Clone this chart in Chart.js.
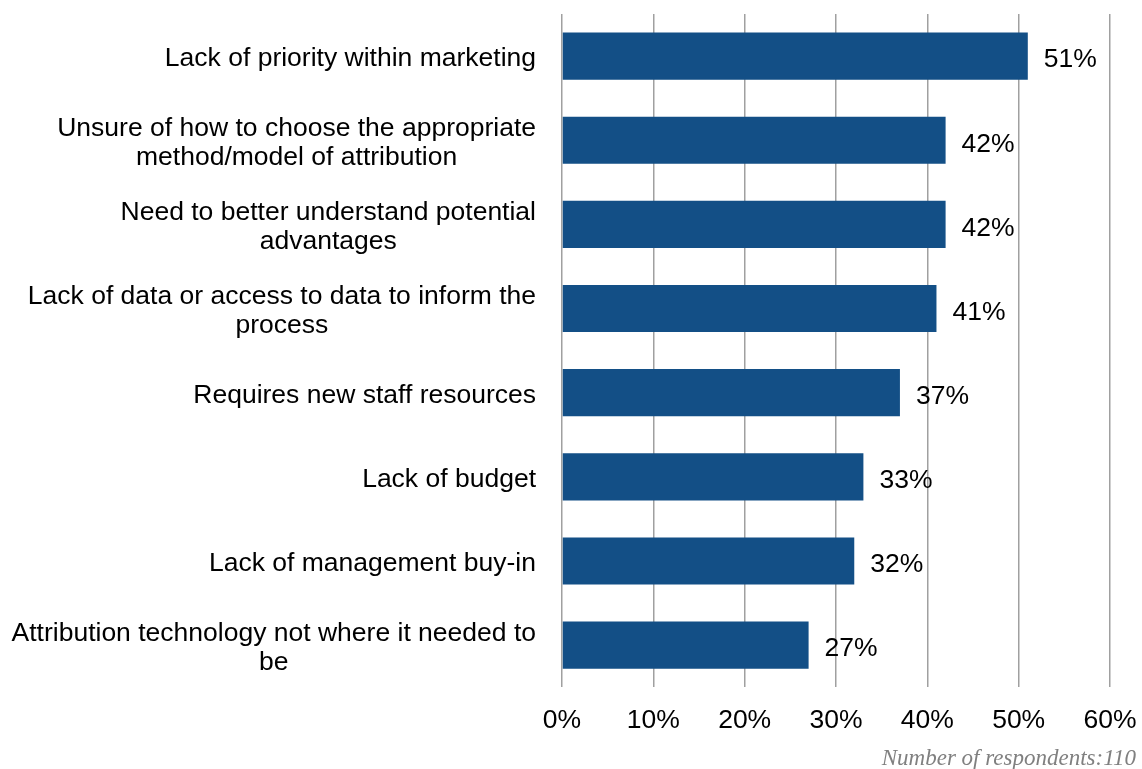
<!DOCTYPE html>
<html>
<head>
<meta charset="utf-8">
<script src="https://cdn.jsdelivr.net/npm/chart.js@4/dist/chart.umd.min.js"></script>
<style>
  html, body { margin: 0; padding: 0; background: #fff; }
  #wrap { width: 1142px; height: 769px; position: relative; }
</style>
</head>
<body>
<div id="wrap"><canvas id="barrierChart"></canvas></div>
<script>
// --- data ---
const categories = [
    ['Lack of priority within marketing'],
    ['Unsure of how to choose the appropriate', 'method/model of attribution'],
    ['Need to better understand potential', 'advantages'],
    ['Lack of data or access to data to inform the', 'process'],
    ['Requires new staff resources'],
    ['Lack of budget'],
    ['Lack of management buy-in'],
    ['Attribution technology not where it needed to', 'be']
];
const shares = [51, 42, 42, 41, 37, 33, 32, 27];
const tickValues = [0, 10, 20, 30, 40, 50, 60];
const footnote = 'Number of respondents:110';

const BAR_BLUE = '#134f86';
const GRID_GREY = '#a0a0a0';
const TEXT_FONT = '"Liberation Sans", Arial, sans-serif';
const TEXT_SIZE = 26.5;

// category labels: block right-aligned, lines centred against each other
const categoryLabels = {
    id: 'categoryLabels',
    afterDraw(chart) {
        const ctx = chart.ctx;
        const yScale = chart.scales.y;
        const rightEdge = chart.chartArea.left - 26;
        const lineHeight = 29;
        ctx.save();
        ctx.font = TEXT_SIZE + 'px ' + TEXT_FONT;
        ctx.fillStyle = '#000';
        ctx.textAlign = 'center';
        ctx.textBaseline = 'middle';
        categories.forEach((lines, i) => {
            const cy = yScale.getPixelForValue(i) + 3;
            const widest = Math.max(...lines.map(l => ctx.measureText(l).width));
            const cx = rightEdge - widest / 2;
            const firstY = cy - (lines.length - 1) * lineHeight / 2;
            lines.forEach((l, j) => ctx.fillText(l, cx, firstY + j * lineHeight));
        });
        ctx.restore();
    }
};

// value labels just past the end of each bar
const valueLabels = {
    id: 'valueLabels',
    afterDatasetsDraw(chart) {
        const ctx = chart.ctx;
        const meta = chart.getDatasetMeta(0);
        ctx.save();
        ctx.font = TEXT_SIZE + 'px ' + TEXT_FONT;
        ctx.fillStyle = '#000';
        ctx.textAlign = 'left';
        ctx.textBaseline = 'middle';
        meta.data.forEach((bar, i) => {
            ctx.fillText(shares[i] + '%', bar.x + 16, bar.y + 4);
        });
        ctx.restore();
    }
};

// respondent count in the bottom right corner
const footnoteText = {
    id: 'footnoteText',
    afterDraw(chart) {
        const ctx = chart.ctx;
        ctx.save();
        ctx.font = 'italic 23px "Liberation Serif", "Times New Roman", serif';
        ctx.fillStyle = '#808080';
        ctx.textAlign = 'right';
        ctx.textBaseline = 'middle';
        ctx.fillText(footnote, chart.width - 6, 759);
        ctx.restore();
    }
};

new Chart(document.getElementById('barrierChart'), {
    type: 'bar',
    data: {
        labels: categories.map(c => c.join(' ')),
        datasets: [{
            data: shares,
            backgroundColor: BAR_BLUE,
            borderWidth: 0,
            categoryPercentage: 1,
            barPercentage: 0.56
        }]
    },
    options: {
        indexAxis: 'y',
        responsive: true,
        maintainAspectRatio: false,
        animation: false,
        layout: {
            padding: { left: 562, right: 32, top: 14, bottom: 14 }
        },
        plugins: {
            legend: { display: false },
            tooltip: { enabled: false }
        },
        scales: {
            x: {
                min: 0,
                max: 60,
                afterBuildTicks(scale) {
                    scale.ticks = tickValues.map(v => ({ value: v }));
                },
                // the outer tick labels fit inside the layout padding already
                afterFit(scale) {
                    scale.paddingLeft = 0;
                    scale.paddingRight = 0;
                },
                grid: {
                    color: GRID_GREY,
                    lineWidth: 1.5,
                    drawTicks: false
                },
                border: { display: false },
                ticks: {
                    padding: 18,
                    color: '#000',
                    font: { family: TEXT_FONT, size: TEXT_SIZE },
                    callback: v => v + '%'
                }
            },
            y: {
                display: false
            }
        }
    },
    plugins: [categoryLabels, valueLabels, footnoteText]
});
</script>
</body>
</html>
